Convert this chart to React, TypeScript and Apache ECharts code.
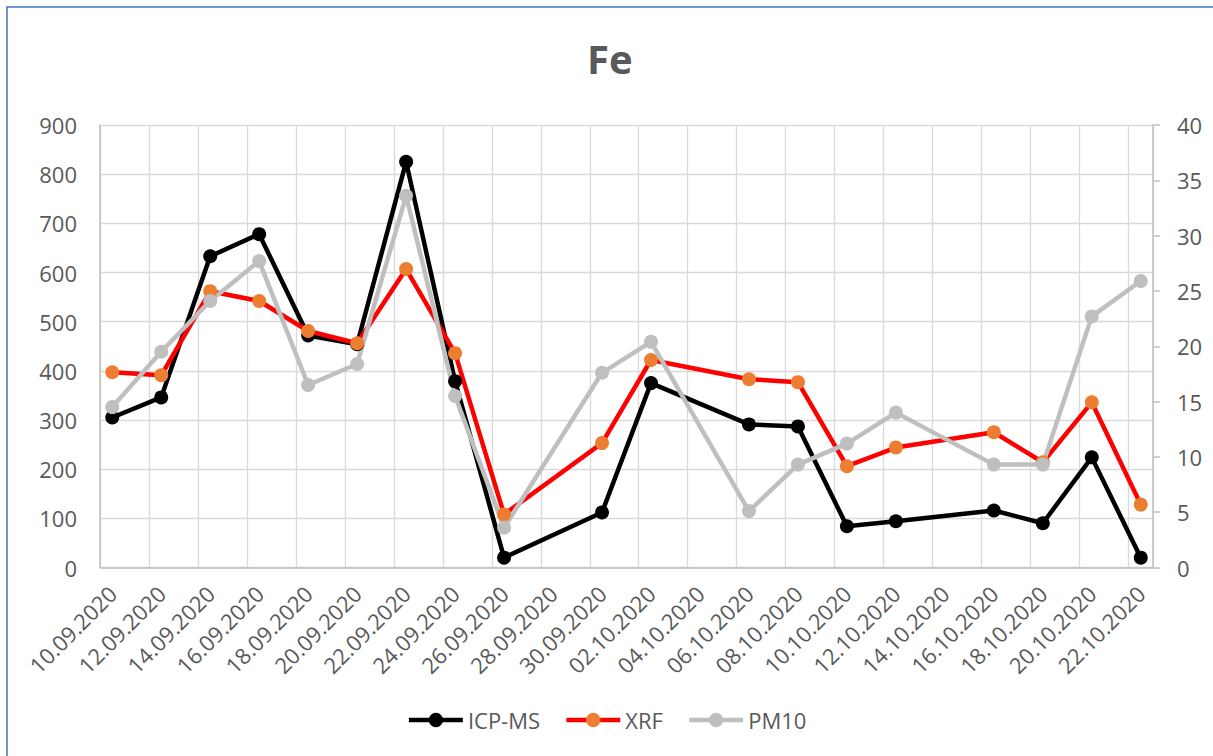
import React, { useEffect, useRef } from "react";
import * as echarts from "echarts";

// Measurement dates
const sampleDates = [
  "10.09.2020", "12.09.2020", "14.09.2020", "16.09.2020", "18.09.2020",
  "20.09.2020", "22.09.2020", "24.09.2020", "26.09.2020", "30.09.2020",
  "02.10.2020", "06.10.2020", "08.10.2020", "10.10.2020", "12.10.2020",
  "16.10.2020", "18.10.2020", "20.10.2020", "22.10.2020",
];
const icpms = [305, 346, 633, 678, 472, 454, 825, 379, 20, 112, 375, 291, 287, 84, 94, 116, 90, 224, 20];
const xrf = [397, 391, 562, 542, 481, 456, 607, 436, 108, 253, 422, 383, 377, 206, 244, 275, 214, 336, 128];
const pm10 = [14.5, 19.5, 24.1, 27.7, 16.5, 18.4, 33.6, 15.5, 3.6, 17.6, 20.4, 5.1, 9.3, 11.2, 14.0, 9.3, 9.3, 22.7, 25.9];

// Axis: every day from the first to the last sample date
const axisStart = "2020-09-10";
const axisDays = 43;

const leftMax = 900;
const leftStep = 100;
const rightMax = 40;
const rightStep = 5;

function pad(n: number) {
  return n < 10 ? "0" + n : "" + n;
}
function buildDays(): string[] {
  const out: string[] = [];
  const d0 = new Date(axisStart + "T12:00:00Z");
  for (let i = 0; i < axisDays; i++) {
    const d = new Date(d0.getTime() + i * 86400000);
    out.push(pad(d.getUTCDate()) + "." + pad(d.getUTCMonth() + 1) + "." + d.getUTCFullYear());
  }
  return out;
}

const FONT = "'Open Sans', 'Noto Sans', sans-serif";

export default function App() {
  const ref = useRef<HTMLDivElement>(null);
  useEffect(() => {
    if (!ref.current) return;
    const chart = echarts.init(ref.current, undefined, { renderer: "svg" });
    const days = buildDays();
    const toSeries = (vals: number[]) =>
      days.map((d) => {
        const i = sampleDates.indexOf(d);
        return i >= 0 ? vals[i] : null;
      });
    const mk = (name: string, vals: number[], line: string, marker: string, yIdx: number) => ({
      name,
      type: "line",
      yAxisIndex: yIdx,
      data: toSeries(vals),
      connectNulls: true,
      symbol: "circle",
      symbolSize: 14,
      showAllSymbol: true,
      lineStyle: { color: line, width: 4.5 },
      itemStyle: { color: marker, borderWidth: 0 },
      emphasis: { disabled: true },
    });
    chart.setOption({
      animation: false,
      backgroundColor: "#ffffff",
      textStyle: { fontFamily: FONT },
      title: {
        text: "Fe",
        left: 582,
        top: 33,
        textStyle: { fontFamily: FONT, fontSize: 40, fontWeight: "bold", color: "#595959" },
      },
      graphic: [
        {
          type: "rect",
          shape: { x: 7, y: 7, width: 1400, height: 1000 },
          style: { fill: "none", stroke: "#4472C4", lineWidth: 1.5 },
          silent: true,
        },
      ],
      legend: {
        top: 704,
        left: "center",
        itemWidth: 54,
        itemHeight: 18,
        itemGap: 24,
        lineStyle: { width: 4.5 },
        textStyle: { fontFamily: FONT, fontSize: 22, color: "#595959" },
        data: ["ICP-MS", "XRF", "PM10"],
      },
      grid: { left: 100, right: 60, top: 125, bottom: 188.5, containLabel: false },
      xAxis: {
        type: "category",
        data: days,
        boundaryGap: true,
        axisLine: { show: true, lineStyle: { color: "#BFBFBF", width: 1.5 } },
        axisTick: { show: false },
        axisLabel: {
          interval: 1,
          rotate: 45,
          margin: 22,
          fontSize: 22,
          fontFamily: FONT,
          color: "#595959",
        },
        splitLine: { show: true, interval: 1, lineStyle: { color: "#D9D9D9", width: 1.3 } },
      },
      yAxis: [
        {
          type: "value",
          min: 0,
          max: leftMax,
          interval: leftStep,
          axisLine: { show: true, lineStyle: { color: "#BFBFBF", width: 1.5 } },
          axisTick: { show: false },
          axisLabel: { margin: 23, fontSize: 22, fontFamily: FONT, color: "#595959" },
          splitLine: { show: true, lineStyle: { color: "#D9D9D9", width: 1.3 } },
        },
        {
          type: "value",
          min: 0,
          max: rightMax,
          interval: rightStep,
          position: "right",
          axisLine: { show: true, lineStyle: { color: "#BFBFBF", width: 1.5 } },
          axisTick: { show: true, length: 7, lineStyle: { color: "#BFBFBF", width: 1.5 } },
          axisLabel: { margin: 24, fontSize: 22, fontFamily: FONT, color: "#595959" },
          splitLine: { show: false },
        },
      ],
      series: [
        mk("ICP-MS", icpms, "#000000", "#000000", 0),
        mk("XRF", xrf, "#FF0000", "#ED7D31", 0),
        mk("PM10", pm10, "#BFBFBF", "#BFBFBF", 1),
      ],
    });
    return () => chart.dispose();
  }, []);
  return (
    <div
      ref={ref}
      style={{ position: "fixed", left: 0, top: 0, width: 1213, height: 756 }}
    />
  );
}
